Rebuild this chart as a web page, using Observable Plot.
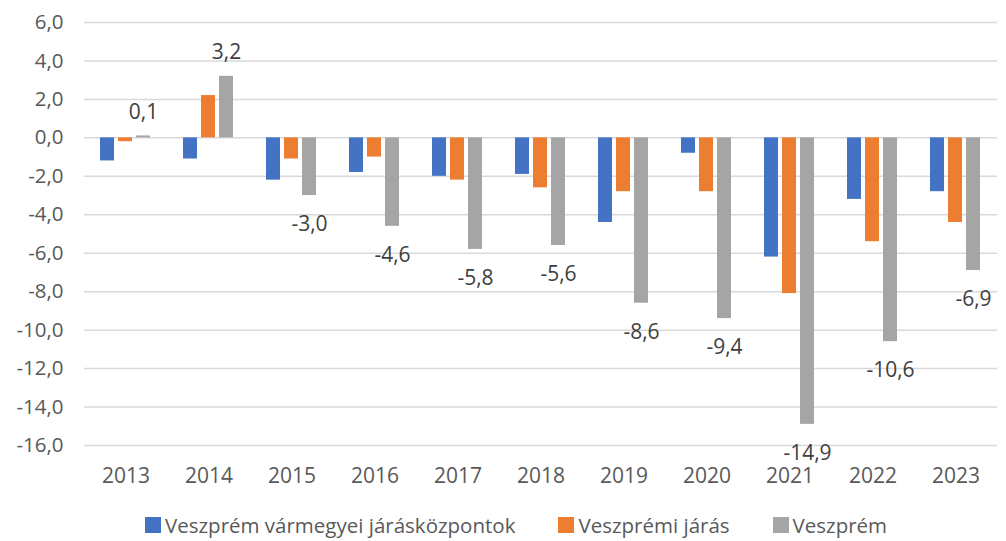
<!DOCTYPE html>
<html>
<head>
<meta charset="utf-8">
<script src="https://cdn.jsdelivr.net/npm/d3@7"></script>
<script src="https://cdn.jsdelivr.net/npm/@observablehq/plot@0.6"></script>
<style>
  body { margin: 0; background: #fff; font-family: "Open Sans", sans-serif; }
  #chart { width: 1006px; }
  .legend { display: flex; justify-content: flex-start; gap: 43px; padding-left: 145px; margin-top: 11px; height: 28px; line-height: 28px; font-size: 20.5px; color: #595959; align-items: center; white-space: nowrap; }
  .legend .item { display: flex; align-items: center; }
  .legend .sw { width: 16px; height: 16px; margin-right: 4px; display: inline-block; }
</style>
</head>
<body>
<div id="chart"></div>
<script>
const years = ["2013","2014","2015","2016","2017","2018","2019","2020","2021","2022","2023"];
const seriesNames = ["Veszprém vármegyei járásközpontok", "Veszprémi járás", "Veszprém"];
const seriesColors = ["#4472C4", "#ED7D31", "#A5A5A5"];
const kozpontok = [-1.2, -1.1, -2.2, -1.8, -2.0, -1.9, -4.4, -0.8, -6.2, -3.2, -2.8];
const jaras     = [-0.2,  2.2, -1.1, -1.0, -2.2, -2.6, -2.8, -2.8, -8.1, -5.4, -4.4];
const veszprem  = [ 0.1,  3.2, -3.0, -4.6, -5.8, -5.6, -8.6, -9.4, -14.9, -10.6, -6.9];
const yTicks = [-16, -14, -12, -10, -8, -6, -4, -2, 0, 2, 4, 6];

const seriesValues = [kozpontok, jaras, veszprem];
const data = [];
years.forEach((y, i) => {
  seriesNames.forEach((s, j) => data.push({year: y, series: s, value: seriesValues[j][i]}));
});
const fmt = d => d.toFixed(1).replace(".", ",").replace("-0,0", "0,0");
const labelData = data.filter(d => d.series === "Veszprém");

const chart = Plot.plot({
  width: 1006,
  height: 500,
  marginTop: 22,
  marginBottom: 55,
  marginLeft: 82,
  marginRight: 6,
  style: { fontFamily: "Open Sans, sans-serif", fontSize: "21px", color: "#595959", background: "#fff", overflow: "visible" },
  y: { domain: [-16, 6], ticks: yTicks },
  fx: { domain: years, paddingInner: 0.38, paddingOuter: 0.19, label: null },
  x: { domain: seriesNames, paddingInner: 0.2, paddingOuter: 0, axis: null },
  color: { domain: seriesNames, range: seriesColors },
  marks: [
    Plot.ruleY(yTicks, { stroke: "#d9d9d9", strokeWidth: 1.5, insetLeft: -16, insetRight: -16 }),
    Plot.axisY({ ticks: yTicks, tickSize: 0, tickPadding: 37, tickFormat: fmt, label: null, fontSize: 20.5, fill: "#595959" }),
    Plot.axisFx({ anchor: "bottom", tickSize: 0, tickPadding: 23, label: null, fontSize: 21, fill: "#595959" }),
    Plot.barY(data, { fx: "year", x: "series", y: "value", fill: "series" }),
    Plot.text(labelData.filter(d => d.value >= 0), { fx: "year", x: "series", y: "value", text: d => fmt(d.value), dy: -24, fontSize: 21, fill: "#404040" }),
    Plot.text(labelData.filter(d => d.value < 0), { fx: "year", x: "series", y: "value", text: d => fmt(d.value), dy: 29, fontSize: 21, fill: "#404040" })
  ]
});
document.getElementById("chart").appendChild(chart);

const legend = document.createElement("div");
legend.className = "legend";
seriesNames.forEach((s, i) => {
  const it = document.createElement("div");
  it.className = "item";
  const sw = document.createElement("span");
  sw.className = "sw";
  sw.style.background = seriesColors[i];
  it.appendChild(sw);
  it.appendChild(document.createTextNode(s));
  legend.appendChild(it);
});
document.getElementById("chart").appendChild(legend);
</script>
</body>
</html>
